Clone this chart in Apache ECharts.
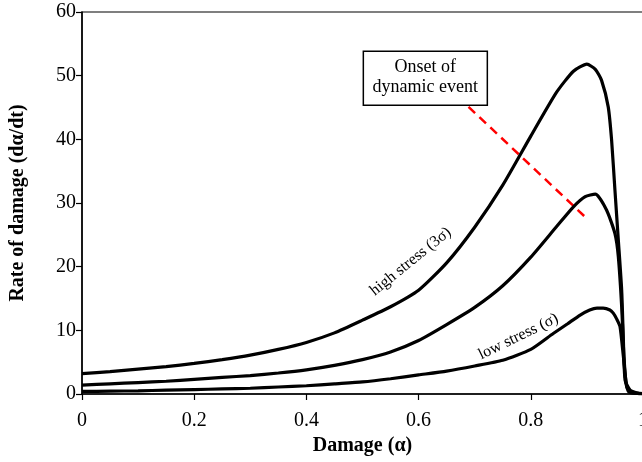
<!DOCTYPE html>
<html>
<head>
<meta charset="utf-8">
<script src="https://cdn.jsdelivr.net/npm/echarts@6/dist/echarts.min.js"></script>
<style>
  html, body { margin: 0; padding: 0; background: #fff; overflow: hidden; }
  #chart { width: 662px; height: 462px; }
</style>
</head>
<body>
<div id="chart"></div>
<script>
// Damage rate curves: [damage α, rate dα/dt]
const highStress = [
  [0, 3.2], [0.05, 3.5], [0.1, 3.9], [0.15, 4.3], [0.2, 4.8], [0.25, 5.4],
  [0.3, 6.1], [0.35, 7.0], [0.4, 8.1], [0.45, 9.6], [0.5, 11.6], [0.55, 13.7],
  [0.6, 16.3], [0.65, 20.6], [0.7, 26.2], [0.75, 32.8], [0.8, 40.5],
  [0.846, 47.4], [0.876, 50.7], [0.9, 51.8], [0.915, 51.0], [0.926, 49.3],
  [0.938, 45.1], [0.944, 39.9], [0.95, 32.0], [0.956, 24.2], [0.962, 16.3],
  [0.965, 8.5], [0.968, 2.2], [0.977, 0.6], [0.99, 0.15], [1.0, 0.05]
];
const midStress = [
  [0, 1.4], [0.05, 1.6], [0.1, 1.8], [0.15, 2.0], [0.2, 2.3], [0.25, 2.6],
  [0.3, 2.9], [0.35, 3.3], [0.4, 3.8], [0.45, 4.5], [0.5, 5.4], [0.55, 6.6],
  [0.6, 8.4], [0.65, 10.9], [0.7, 13.6], [0.75, 17.0], [0.8, 21.5],
  [0.846, 26.3], [0.876, 29.4], [0.897, 31.0], [0.915, 31.4], [0.935, 28.9],
  [0.95, 25.2], [0.956, 21.6], [0.962, 13.7], [0.966, 5.9], [0.971, 1.1],
  [0.98, 0.2], [0.99, 0.1], [1.0, 0.05]
];
const lowStress = [
  [0, 0.4], [0.05, 0.45], [0.1, 0.5], [0.15, 0.6], [0.2, 0.7], [0.25, 0.8],
  [0.3, 0.9], [0.35, 1.1], [0.4, 1.3], [0.45, 1.6], [0.5, 1.9], [0.55, 2.4],
  [0.6, 3.0], [0.65, 3.6], [0.7, 4.4], [0.75, 5.3], [0.8, 7.0], [0.84, 9.5],
  [0.865, 11.0], [0.888, 12.4], [0.905, 13.2], [0.918, 13.5], [0.929, 13.5],
  [0.941, 13.2], [0.947, 12.7], [0.953, 11.8], [0.959, 10.6], [0.965, 5.9],
  [0.97, 1.7], [0.975, 0.3], [0.99, 0.1], [1.0, 0.05]
];
// Trend of the dynamic-event onset across the peaks
const onsetLine = [[0.689, 45.1], [0.897, 27.8]];

const xTicks = { min: 0, max: 1, interval: 0.2 };
const yTicks = { min: 0, max: 60, interval: 10 };

// Annotation anchors in data coordinates
const highLabelAt = [0.586, 20.8];
const lowLabelAt = [0.778, 9.0];
const boxAt = [0.612, 49.6];

const serif = '"Liberation Serif", "Times New Roman", serif';
const chart = echarts.init(document.getElementById('chart'), null, { renderer: 'canvas' });

function curve(name, data) {
  return {
    name, type: 'line', data, showSymbol: false, smooth: 0.2,
    lineStyle: { color: '#000', width: 3.2 }, z: 3, animation: false
  };
}

chart.setOption({
  animation: false,
  backgroundColor: '#fff',
  grid: { left: 81, right: 19, top: 12, bottom: 68, show: true, borderColor: '#000', borderWidth: 1.2, backgroundColor: 'transparent' },
  xAxis: {
    type: 'value', min: xTicks.min, max: xTicks.max, interval: xTicks.interval,
    name: 'Damage (α)', nameLocation: 'middle', nameGap: 42,
    nameTextStyle: { fontFamily: serif, fontSize: 20, fontWeight: 'bold', color: '#000' },
    axisLine: { show: true, lineStyle: { color: '#000', width: 1.5 } },
    axisTick: { show: true, inside: false, length: 6, lineStyle: { color: '#000', width: 1.2 } },
    axisLabel: { fontFamily: serif, fontSize: 20, color: '#000', margin: 17 },
    splitLine: { show: false }
  },
  yAxis: {
    type: 'value', min: yTicks.min, max: yTicks.max, interval: yTicks.interval,
    name: 'Rate of damage (dα/dt)', nameLocation: 'middle', nameGap: 54,
    nameTextStyle: { fontFamily: serif, fontSize: 20, fontWeight: 'bold', color: '#000' },
    axisLine: { show: true, lineStyle: { color: '#000', width: 1.5 } },
    axisTick: { show: true, inside: false, length: 6, lineStyle: { color: '#000', width: 1.2 } },
    axisLabel: { fontFamily: serif, fontSize: 20, color: '#000', margin: 6 },
    splitLine: { show: false }
  },
  series: [
    curve('high stress (3σ)', highStress),
    curve('intermediate stress', midStress),
    curve('low stress (σ)', lowStress),
    {
      name: 'Onset of dynamic event', type: 'line', data: onsetLine, showSymbol: false,
      lineStyle: { color: '#ff0000', width: 2.5, type: [9, 6] }, z: 2, animation: false
    }
  ]
});

// Place the rotated curve labels and the callout box from data coordinates
function place() {
  const hp = chart.convertToPixel({ gridIndex: 0 }, highLabelAt);
  const lp = chart.convertToPixel({ gridIndex: 0 }, lowLabelAt);
  const bp = chart.convertToPixel({ gridIndex: 0 }, boxAt);
  chart.setOption({
    graphic: [
      {
        type: 'text', x: hp[0], y: hp[1], rotation: 39 * Math.PI / 180, z: 10,
        style: { text: 'high stress (3σ)', font: '16px ' + serif, fill: '#000', align: 'center', verticalAlign: 'middle' }
      },
      {
        type: 'text', x: lp[0], y: lp[1], rotation: 26 * Math.PI / 180, z: 10,
        style: { text: 'low stress (σ)', font: '16px ' + serif, fill: '#000', align: 'center', verticalAlign: 'middle' }
      },
      {
        type: 'rect', x: bp[0] - 62, y: bp[1] - 27, z: 10,
        shape: { width: 124, height: 54 },
        style: { fill: '#fff', stroke: '#000', lineWidth: 1.5 }
      },
      {
        type: 'text', x: bp[0], y: bp[1] - 1, z: 11,
        style: { text: 'Onset of\ndynamic event', font: '18px ' + serif, lineHeight: 20, fill: '#000', align: 'center', verticalAlign: 'middle' }
      }
    ]
  });
}
place();
</script>
</body>
</html>
